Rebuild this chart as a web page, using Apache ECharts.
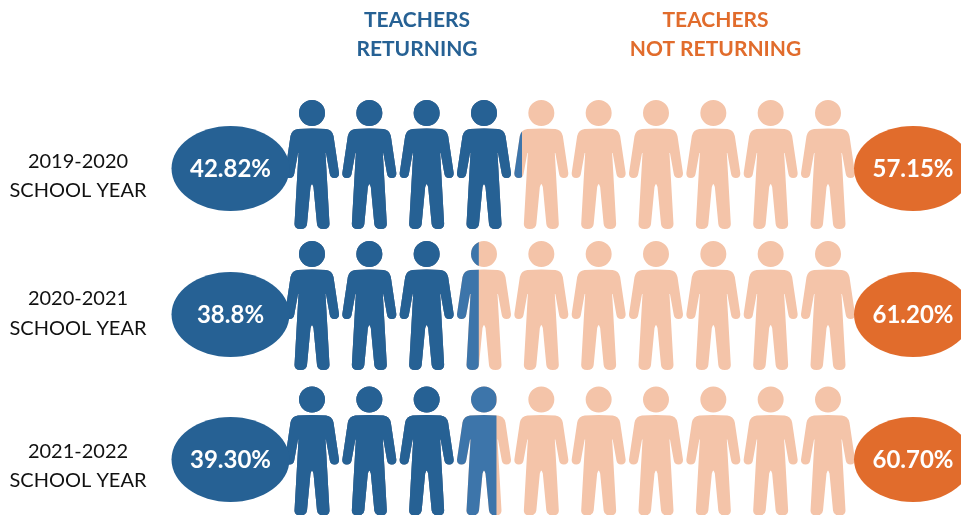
<!DOCTYPE html>
<html>
<head>
<meta charset="utf-8">
<style>
  html, body { margin: 0; padding: 0; background: #fff; }
  #chart { width: 961px; height: 515px; }
</style>
<script src="https://cdn.jsdelivr.net/npm/echarts@6/dist/echarts.min.js"></script>
</head>
<body>
<div id="chart"></div>
<script>
var schoolYears = ['2019-2020', '2020-2021', '2021-2022'];
var returningLabels = ['42.82%', '38.8%', '39.30%'];
var notReturningLabels = ['57.15%', '61.20%', '60.70%'];
var peopleCount = 10;
// how far the blue reaches, in people, as drawn in the picture
var solidPeople = [4, 3, 3];
var partPeople = [4.16, 3.4, 3.71];

var headerLeft = ['TEACHERS', 'RETURNING'];
var headerRight = ['TEACHERS', 'NOT RETURNING'];

var BLUE = '#266194', BLUE_LIGHT = '#3d75aa', PEACH = '#f4c4a9', ORANGE = '#e16c2c';
var FONT = 'Lato, "Open Sans", sans-serif';

var personPath = 'path://M14 13a13 13 0 1 1 26 0a13 13 0 1 1 -26 0z' +
    'M27 28.5L41 29Q47 29.5 48.5 36L54 73Q54.3 78 49.5 78Q45.5 78 44.8 74L41 53L40.5 53' +
    'L44.5 124Q44.5 129 38.5 129Q32.5 129 32 124L28.5 87Q27.5 84 27 84Q26.5 84 25.5 87' +
    'L22 124Q21.5 129 15.5 129Q9.5 129 9.5 124L13.5 53L13 53L9.2 74Q8.5 78 4.5 78' +
    'Q-0.3 78 0 73L5.5 36Q7 29.5 13 29Z';

var rowTops = [100, 241, 387];
var ellipseY = [168.5, 314.5, 459.5];
var yearY = [[161.5, 190.5], [298.5, 328.5], [451.5, 480.5]];

var myChart = echarts.init(document.getElementById('chart'), null, { renderer: 'canvas' });

var grids = [], xAxes = [], yAxes = [], series = [], graphics = [];

function personSeries(i, value, color, clip) {
    return {
        type: 'pictorialBar',
        xAxisIndex: i,
        yAxisIndex: i,
        symbol: personPath,
        symbolSize: [54, 129],
        symbolRepeat: peopleCount,
        symbolBoundingData: peopleCount,
        symbolClip: clip,
        silent: true,
        animation: false,
        itemStyle: { color: color },
        data: [value]
    };
}

function addText(text, x, y, size, weight, color) {
    graphics.push({
        type: 'text',
        z: 110,
        x: x,
        y: y,
        style: {
            text: text,
            fill: color,
            font: weight + ' ' + size + 'px ' + FONT,
            textAlign: 'center',
            textVerticalAlign: 'middle'
        }
    });
}

schoolYears.forEach(function (year, i) {
    grids.push({ left: 285, width: 570, top: rowTops[i], height: 129 });
    xAxes.push({ type: 'value', gridIndex: i, min: 0, max: peopleCount, show: false });
    yAxes.push({ type: 'category', gridIndex: i, data: [year], show: false });

    series.push(personSeries(i, peopleCount, PEACH, false));
    series.push(personSeries(i, partPeople[i], BLUE_LIGHT, true));
    series.push(personSeries(i, solidPeople[i], BLUE, true));

    graphics.push({ type: 'ellipse', z: 100, shape: { cx: 230.5, cy: ellipseY[i], rx: 59, ry: 42.5 }, style: { fill: BLUE } });
    graphics.push({ type: 'ellipse', z: 100, shape: { cx: 913, cy: ellipseY[i], rx: 59, ry: 42.5 }, style: { fill: ORANGE } });

    addText(returningLabels[i], 230.5, ellipseY[i] + 1, 24, 'bold', '#fff');
    addText(notReturningLabels[i], 913, ellipseY[i] + 1, 24, 'bold', '#fff');
    addText(year, 78, yearY[i][0], 20, 'normal', '#111');
    addText('SCHOOL YEAR', 78, yearY[i][1], 20, 'normal', '#111');
});

addText(headerLeft[0], 417, 20.5, 21, 'bold', BLUE);
addText(headerLeft[1], 417, 49.5, 21, 'bold', BLUE);
addText(headerRight[0], 715.5, 20.5, 21, 'bold', ORANGE);
addText(headerRight[1], 715.5, 49.5, 21, 'bold', ORANGE);

myChart.setOption({
    backgroundColor: '#fff',
    animation: false,
    grid: grids,
    xAxis: xAxes,
    yAxis: yAxes,
    series: series,
    graphic: { elements: graphics }
});
</script>
</body>
</html>
